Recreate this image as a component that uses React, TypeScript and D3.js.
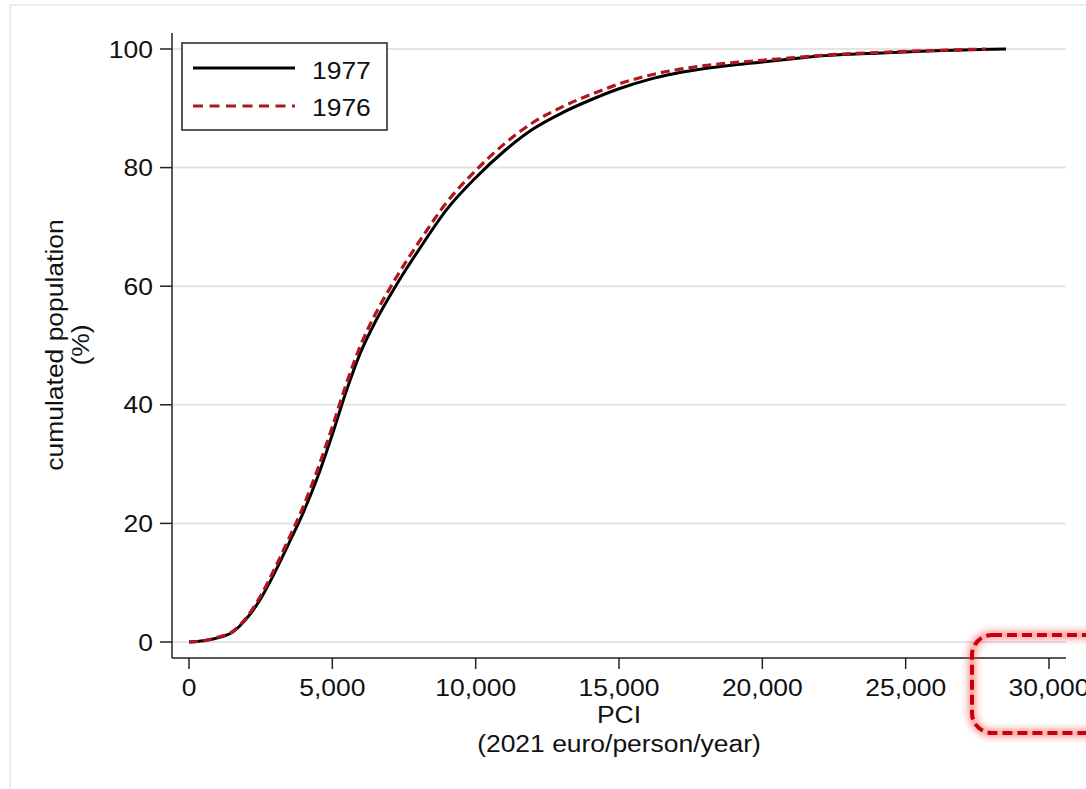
import React from 'react';
import * as d3 from 'd3';

const pci1977 = [0, 500, 1000, 1500, 2000, 2500, 3000, 3500, 4000, 4500, 5000, 5500, 6000, 6500, 7000, 7500, 8000, 9000, 10000, 11000, 12000, 13000, 14000, 15000, 16000, 17000, 18000, 19000, 20000, 21000, 22000, 23000, 24000, 25000, 26000, 27000, 28000, 28500];
const cum1977 = [0, 0.2, 0.7, 1.6, 3.9, 7.3, 11.8, 16.8, 22, 28, 35, 42.5, 49, 54, 58.3, 62.3, 66, 73, 78.3, 82.8, 86.5, 89.2, 91.4, 93.3, 94.8, 95.9, 96.7, 97.3, 97.8, 98.3, 98.8, 99.1, 99.3, 99.5, 99.7, 99.85, 99.95, 100];

const pci1976 = [0, 500, 1000, 1500, 2000, 2500, 3000, 3500, 4000, 4500, 5000, 5500, 6000, 6500, 7000, 7500, 8000, 9000, 10000, 11000, 12000, 13000, 14000, 15000, 16000, 17000, 18000, 19000, 20000, 21000, 22000, 23000, 24000, 25000, 26000, 27000, 27800];
const cum1976 = [0, 0.2, 0.8, 1.7, 4.1, 7.8, 12.5, 17.6, 23, 29.3, 36.3, 43.7, 50.2, 55.3, 59.6, 63.6, 67.3, 74.2, 79.5, 84, 87.6, 90.2, 92.3, 94.1, 95.5, 96.5, 97.2, 97.7, 98.1, 98.5, 98.9, 99.2, 99.4, 99.6, 99.75, 99.9, 100];

const xTicks = [0, 5000, 10000, 15000, 20000, 25000, 30000];
const yTicks = [0, 20, 40, 60, 80, 100];
const seriesNames = ['1977', '1976'];

const W = 1086, H = 789;
const axisLeft = 172, axisRight = 1066, axisTop = 33, axisBottom = 658;
const ink = '#111';
const red = '#b2161c';
const font = '"Liberation Sans", Arial, Helvetica, sans-serif';
const fs = 24.5;
const stretch = 1.08;

// text helper: the original fonts run a bit wider than Arial
function Label(props: { x: number; y: number; anchor?: string; rotate?: boolean; size?: number; children: React.ReactNode }) {
  const rot = props.rotate ? ' rotate(-90)' : '';
  return (
    <g transform={`translate(${props.x},${props.y})${rot} scale(${stretch},1)`}>
      <text textAnchor={props.anchor || 'middle'} fontSize={props.size || fs} fontFamily={font} fill={ink}>
        {props.children}
      </text>
    </g>
  );
}

export default function App() {
  const x = d3.scaleLinear().domain([0, 30000]).range([189, 1049]);
  const y = d3.scaleLinear().domain([0, 100]).range([642, 49]);
  const fmt = d3.format(',');

  const line = d3.line<[number, number]>()
    .x(d => x(d[0]))
    .y(d => y(d[1]))
    .curve(d3.curveMonotoneX);

  const d77 = line(pci1977.map((v, i) => [v, cum1977[i]] as [number, number])) || '';
  const d76 = line(pci1976.map((v, i) => [v, cum1976[i]] as [number, number])) || '';

  return (
    <svg width={W} height={H} style={{ display: 'block', position: 'absolute', left: 0, top: 0, background: '#fff' }}>
      <defs>
        <filter id="glow" x="-20%" y="-20%" width="140%" height="140%">
          <feGaussianBlur stdDeviation="3" />
        </filter>
      </defs>
      <rect x={0} y={0} width={W} height={H} fill="#fff" />
      <rect x={10} y={5} width={1200} height={1000} fill="none" stroke="#ececec" strokeWidth={2} />

      {/* gridlines */}
      {yTicks.map(t => (
        <line key={'g' + t} x1={axisLeft} x2={axisRight} y1={y(t)} y2={y(t)} stroke="#e4e4e4" strokeWidth={2} />
      ))}

      {/* axes */}
      <line x1={axisLeft} x2={axisLeft} y1={axisTop} y2={axisBottom} stroke="#222" strokeWidth={1.5} />
      <line x1={axisLeft} x2={axisRight} y1={axisBottom} y2={axisBottom} stroke="#222" strokeWidth={1.5} />
      {yTicks.map(t => (
        <g key={'y' + t}>
          <line x1={160} x2={axisLeft} y1={y(t)} y2={y(t)} stroke="#222" strokeWidth={1.5} />
          <Label x={153} y={y(t) + 8.5} anchor="end">{t}</Label>
        </g>
      ))}
      {xTicks.map(t => (
        <g key={'x' + t}>
          <line x1={x(t)} x2={x(t)} y1={axisBottom} y2={669} stroke="#222" strokeWidth={1.5} />
          <Label x={x(t)} y={696}>{fmt(t)}</Label>
        </g>
      ))}

      {/* axis titles */}
      <Label x={619} y={723}>PCI</Label>
      <Label x={619} y={752}>(2021 euro/person/year)</Label>
      <Label x={63} y={345} rotate>cumulated population</Label>
      <Label x={89} y={345} rotate>(%)</Label>

      {/* curves */}
      <path d={d77} fill="none" stroke="#000" strokeWidth={3} strokeLinejoin="round" />
      <path d={d76} fill="none" stroke={red} strokeWidth={3.2} strokeDasharray="9,5" />

      {/* legend */}
      <rect x={182} y={43} width={205} height={87} fill="#fff" stroke="#222" strokeWidth={1.5} />
      <line x1={193} x2={295} y1={68} y2={68} stroke="#000" strokeWidth={3} />
      <line x1={193} x2={295} y1={106} y2={106} stroke={red} strokeWidth={3} strokeDasharray="10,6.5" />
      <Label x={312} y={79} anchor="start">{seriesNames[0]}</Label>
      <Label x={312} y={116} anchor="start">{seriesNames[1]}</Label>

      {/* highlight box round the last tick */}
      <rect x={972} y={635} width={140} height={98} rx={20} fill="none" stroke="#ff3030" strokeOpacity={0.45} strokeWidth={9} filter="url(#glow)" />
      <rect x={972} y={635} width={140} height={98} rx={20} fill="none" stroke="#c8000a" strokeWidth={4} strokeDasharray="10,5" />
    </svg>
  );
}
